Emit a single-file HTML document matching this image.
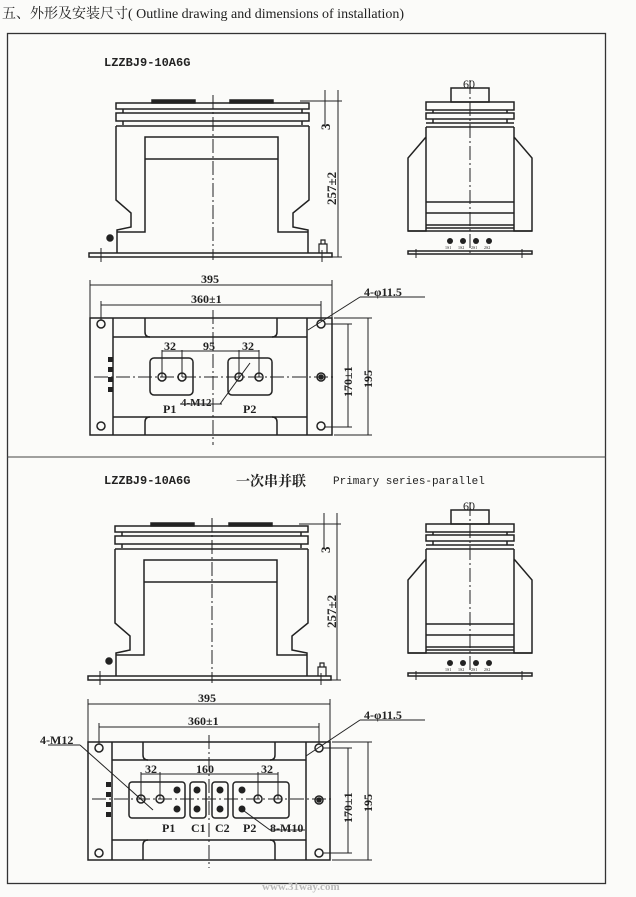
<!DOCTYPE html>
<html><head><meta charset="utf-8"><style>
html,body{margin:0;padding:0;background:#fbfbf9;}
svg{display:block}
text{font-family:"Liberation Serif","Noto Serif CJK SC",serif;fill:#222}
.m{font-family:"Liberation Mono","Noto Sans CJK SC",monospace;font-weight:bold}
</style></head><body>
<svg width="636" height="897" viewBox="0 0 636 897" xmlns="http://www.w3.org/2000/svg">
<defs>
<g id="front" fill="none" stroke="#222" stroke-width="1.5">
  <rect x="152" y="100" width="43" height="3" fill="#222"/>
  <rect x="230" y="100" width="43" height="3" fill="#222"/>
  <rect x="116" y="103" width="193" height="6"/>
  <rect x="116" y="113" width="193" height="8"/>
  <line x1="123" y1="109" x2="123" y2="113"/><line x1="302" y1="109" x2="302" y2="113"/>
  <line x1="123" y1="121" x2="123" y2="125"/><line x1="302" y1="121" x2="302" y2="125"/>
  <line x1="116" y1="126" x2="309" y2="126"/>
  <path d="M116 126 V200 L131 213 V227 L117 230 V253"/>
  <path d="M309 126 V200 L293 213 V227 L308 230 V253"/>
  <path d="M117 232 H145 V137 H278 V232 H308"/>
  <line x1="145" y1="159" x2="278" y2="159"/>
  <rect x="89" y="253" width="243" height="4"/>
  <line x1="213" y1="95" x2="213" y2="260" stroke-dasharray="14 3 2 3" stroke-width="1"/>
  <line x1="101" y1="248" x2="101" y2="262" stroke-width="1"/>
  <circle cx="110" cy="238" r="3" fill="#222"/>
  <path d="M319 253 V244 H327 V253 M321 244 V240 H325 V244" stroke-width="1.2"/>
  <line x1="322" y1="250" x2="322" y2="262" stroke-width="1"/>
  <line x1="300" y1="101" x2="342" y2="101" stroke-width="1"/>
  <line x1="338" y1="90" x2="338" y2="257" stroke-width="1"/>
  <line x1="325" y1="90" x2="325" y2="125" stroke-width="1"/>
  <line x1="318" y1="257" x2="342" y2="257" stroke-width="1"/>
</g>
<g id="side" fill="none" stroke="#222" stroke-width="1.5">
  <rect x="451" y="88" width="38" height="14"/>
  <rect x="426" y="102" width="88" height="8"/>
  <rect x="426" y="113" width="88" height="6"/>
  <line x1="433" y1="110" x2="433" y2="113"/><line x1="507" y1="110" x2="507" y2="113"/>
  <line x1="433" y1="119" x2="433" y2="123"/><line x1="507" y1="119" x2="507" y2="123"/>
  <line x1="426" y1="123" x2="514" y2="123"/><line x1="426" y1="127" x2="514" y2="127"/>
  <path d="M426 127 V231 H408 V158 L426 137"/>
  <path d="M514 127 V231 H532 V158 L514 137"/>
  <line x1="426" y1="202" x2="514" y2="202"/>
  <line x1="426" y1="213" x2="514" y2="213"/>
  <line x1="426" y1="225" x2="514" y2="225"/>
  <line x1="426" y1="228" x2="514" y2="228"/>
  <line x1="408" y1="231" x2="532" y2="231"/>
  <rect x="408" y="251" width="124" height="3"/>
  <line x1="470" y1="80" x2="470" y2="256" stroke-dasharray="14 3 2 3" stroke-width="1"/>
  <line x1="416" y1="249" x2="416" y2="258" stroke-width="1"/>
  <line x1="522" y1="249" x2="522" y2="258" stroke-width="1"/>
  <g fill="#222" stroke="none">
    <circle cx="450" cy="241" r="3"/><circle cx="463" cy="241" r="3"/>
    <circle cx="476" cy="241" r="3"/><circle cx="489" cy="241" r="3"/>
  </g>
  <g font-size="4" fill="#222" stroke="none"><text x="445" y="249">1S1</text><text x="458" y="249">1S2</text><text x="471" y="249">2S1</text><text x="484" y="249">2S2</text></g>
</g>
</defs>

<text x="2" y="18" font-size="14" font-family="Liberation Serif, Noto Serif CJK SC, serif">五、外形及安装尺寸( Outline drawing and dimensions of installation)</text>
<rect x="7.5" y="33.5" width="598" height="850" fill="none" stroke="#333" stroke-width="1.3"/>
<line x1="7" y1="457" x2="606" y2="457" stroke="#444" stroke-width="1"/>

<text class="m" x="104" y="66" font-size="12">LZZBJ9-10A6G</text>
<use href="#front"/>
<use href="#side"/>
<text x="463" y="88" font-size="12">60</text>
<text font-size="13" font-weight="bold" transform="translate(330,130) rotate(-90)">3</text>
<text font-size="13" font-weight="bold" transform="translate(336,205) rotate(-90)">257±2</text>

<!-- upper plan -->
<g fill="none" stroke="#222" stroke-width="1.5">
  <line x1="90" y1="285" x2="332" y2="285" stroke-width="1"/>
  <line x1="90" y1="280" x2="90" y2="318" stroke-width="1"/><line x1="332" y1="280" x2="332" y2="318" stroke-width="1"/>
  <line x1="101" y1="305" x2="321" y2="305" stroke-width="1"/>
  <line x1="101" y1="301" x2="101" y2="320" stroke-width="1"/><line x1="321" y1="301" x2="321" y2="320" stroke-width="1"/>
  <rect x="90" y="318" width="242" height="117"/>
  <line x1="113" y1="318" x2="113" y2="435"/><line x1="307" y1="318" x2="307" y2="435"/>
  <line x1="113" y1="337" x2="307" y2="337"/><line x1="113" y1="417" x2="307" y2="417"/>
  <path d="M145 318 V332 Q145 337 150 337 M277 318 V332 Q277 337 272 337 M145 435 V422 Q145 417 150 417 M277 435 V422 Q277 417 272 417"/>
  <rect x="150" y="358" width="43" height="37" rx="4"/>
  <rect x="228" y="358" width="44" height="37" rx="4"/>
  <line x1="94" y1="377" x2="336" y2="377" stroke-dasharray="14 3 2 3" stroke-width="1"/>
  <line x1="213" y1="310" x2="213" y2="445" stroke-dasharray="14 3 2 3" stroke-width="1"/>
  <circle cx="101" cy="324" r="4"/><circle cx="321" cy="324" r="4"/>
  <circle cx="101" cy="426" r="4"/><circle cx="321" cy="426" r="4"/>
  <circle cx="321" cy="377" r="4"/><circle cx="321" cy="377" r="2" fill="#222"/>
  <circle cx="162" cy="377" r="4"/><circle cx="182" cy="377" r="4"/>
  <circle cx="239" cy="377" r="4"/><circle cx="259" cy="377" r="4"/>
  <g stroke-width="1">
  <line x1="162" y1="350" x2="162" y2="377"/><line x1="182" y1="350" x2="182" y2="377"/>
  <line x1="239" y1="350" x2="239" y2="377"/><line x1="259" y1="350" x2="259" y2="377"/>
  <line x1="162" y1="351" x2="259" y2="351"/>
  <line x1="180" y1="404" x2="222" y2="404"/><line x1="220" y1="404" x2="250" y2="363"/>
  <line x1="308" y1="330" x2="360" y2="297"/><line x1="360" y1="297" x2="425" y2="297"/>
  <line x1="325" y1="324" x2="352" y2="324"/><line x1="325" y1="427" x2="352" y2="427"/>
  <line x1="348" y1="324" x2="348" y2="427"/>
  <line x1="334" y1="318" x2="372" y2="318"/><line x1="334" y1="435" x2="372" y2="435"/>
  <line x1="368" y1="318" x2="368" y2="435"/>
  </g>
  <g fill="#222" stroke="none"><rect x="108" y="357" width="5" height="5"/><rect x="108" y="367" width="5" height="5"/><rect x="108" y="377" width="5" height="5"/><rect x="108" y="387" width="5" height="5"/></g>
</g>
<g font-size="12" font-weight="bold">
<text x="201" y="283">395</text>
<text x="191" y="303">360±1</text>
<text x="164" y="350">32</text><text x="203" y="350">95</text><text x="242" y="350">32</text>
<text x="163" y="413">P1</text><text x="181" y="406" font-size="11">4-M12</text><text x="243" y="413">P2</text>
<text x="364" y="296">4-φ11.5</text>
<text transform="translate(352,397) rotate(-90)">170±1</text>
<text transform="translate(372,388) rotate(-90)">195</text>
</g>

<!-- lower -->
<text class="m" x="104" y="484" font-size="12">LZZBJ9-10A6G</text>
<text x="236" y="486" font-size="14" font-weight="bold" font-family="Noto Serif CJK SC, serif">一次串并联</text>
<text class="m" x="333" y="484" font-size="11" style="font-weight:normal">Primary series-parallel</text>
<g transform="translate(-1,423)"><use href="#front"/></g>
<g transform="translate(0,422)"><use href="#side"/></g>
<text x="463" y="510" font-size="12">60</text>
<text font-size="13" font-weight="bold" transform="translate(330,553) rotate(-90)">3</text>
<text font-size="13" font-weight="bold" transform="translate(336,628) rotate(-90)">257±2</text>

<g fill="none" stroke="#222" stroke-width="1.5">
  <g stroke-width="1">
  <line x1="88" y1="704" x2="330" y2="704"/>
  <line x1="88" y1="699" x2="88" y2="742"/><line x1="330" y1="699" x2="330" y2="742"/>
  <line x1="99" y1="727" x2="319" y2="727"/>
  <line x1="99" y1="723" x2="99" y2="744"/><line x1="319" y1="723" x2="319" y2="744"/>
  </g>
  <rect x="88" y="742" width="242" height="118"/>
  <line x1="112" y1="742" x2="112" y2="860"/><line x1="306" y1="742" x2="306" y2="860"/>
  <line x1="112" y1="760" x2="306" y2="760"/><line x1="112" y1="840" x2="306" y2="840"/>
  <path d="M143 742 V755 Q143 760 148 760 M275 742 V755 Q275 760 270 760 M143 860 V845 Q143 840 148 840 M275 860 V845 Q275 840 270 840"/>
  <rect x="129" y="782" width="56" height="36" rx="3"/>
  <rect x="190" y="782" width="16" height="36" rx="3"/>
  <rect x="212" y="782" width="16" height="36" rx="3"/>
  <rect x="233" y="782" width="56" height="36" rx="3"/>
  <line x1="92" y1="799" x2="334" y2="799" stroke-dasharray="14 3 2 3" stroke-width="1"/>
  <line x1="209" y1="735" x2="209" y2="868" stroke-dasharray="14 3 2 3" stroke-width="1"/>
  <circle cx="99" cy="748" r="4"/><circle cx="319" cy="748" r="4"/>
  <circle cx="99" cy="853" r="4"/><circle cx="319" cy="853" r="4"/>
  <circle cx="319" cy="800" r="4"/><circle cx="319" cy="800" r="2" fill="#222"/>
  <circle cx="141" cy="799" r="4"/><circle cx="160" cy="799" r="4"/>
  <circle cx="258" cy="799" r="4"/><circle cx="278" cy="799" r="4"/>
  <g fill="#222" stroke="none">
   <circle cx="177" cy="790" r="3.5"/><circle cx="177" cy="809" r="3.5"/>
   <circle cx="197" cy="790" r="3.5"/><circle cx="197" cy="809" r="3.5"/>
   <circle cx="220" cy="790" r="3.5"/><circle cx="220" cy="809" r="3.5"/>
   <circle cx="242" cy="790" r="3.5"/><circle cx="242" cy="809" r="3.5"/>
   <rect x="106" y="782" width="5" height="5"/><rect x="106" y="792" width="5" height="5"/><rect x="106" y="802" width="5" height="5"/><rect x="106" y="812" width="5" height="5"/>
  </g>
  <g stroke-width="1">
  <line x1="141" y1="772" x2="141" y2="799"/><line x1="160" y1="772" x2="160" y2="799"/>
  <line x1="258" y1="772" x2="258" y2="799"/><line x1="278" y1="772" x2="278" y2="799"/>
  <line x1="141" y1="774" x2="278" y2="774"/>
  <line x1="48" y1="745" x2="80" y2="745"/><line x1="80" y1="745" x2="153" y2="810"/>
  <line x1="240" y1="808" x2="270" y2="830"/><line x1="270" y1="830" x2="305" y2="830"/>
  <line x1="306" y1="756" x2="360" y2="720"/><line x1="360" y1="720" x2="425" y2="720"/>
  <line x1="323" y1="748" x2="352" y2="748"/><line x1="323" y1="853" x2="352" y2="853"/>
  <line x1="348" y1="748" x2="348" y2="853"/>
  <line x1="332" y1="742" x2="372" y2="742"/><line x1="332" y1="860" x2="372" y2="860"/>
  <line x1="368" y1="742" x2="368" y2="860"/>
  </g>
</g>
<g font-size="12" font-weight="bold">
<text x="198" y="702">395</text>
<text x="188" y="725">360±1</text>
<text x="40" y="744">4-M12</text>
<text x="145" y="773">32</text><text x="196" y="773">160</text><text x="261" y="773">32</text>
<text x="162" y="832">P1</text><text x="191" y="832">C1</text><text x="215" y="832">C2</text><text x="243" y="832">P2</text>
<text x="270" y="832">8-M10</text>
<text x="364" y="719">4-φ11.5</text>
<text transform="translate(352,823) rotate(-90)">170±1</text>
<text transform="translate(372,812) rotate(-90)">195</text>
</g>
<text x="262" y="890" font-size="11" style="fill:#bbb" font-weight="bold">www.31way.com</text>
</svg>
</body></html>
